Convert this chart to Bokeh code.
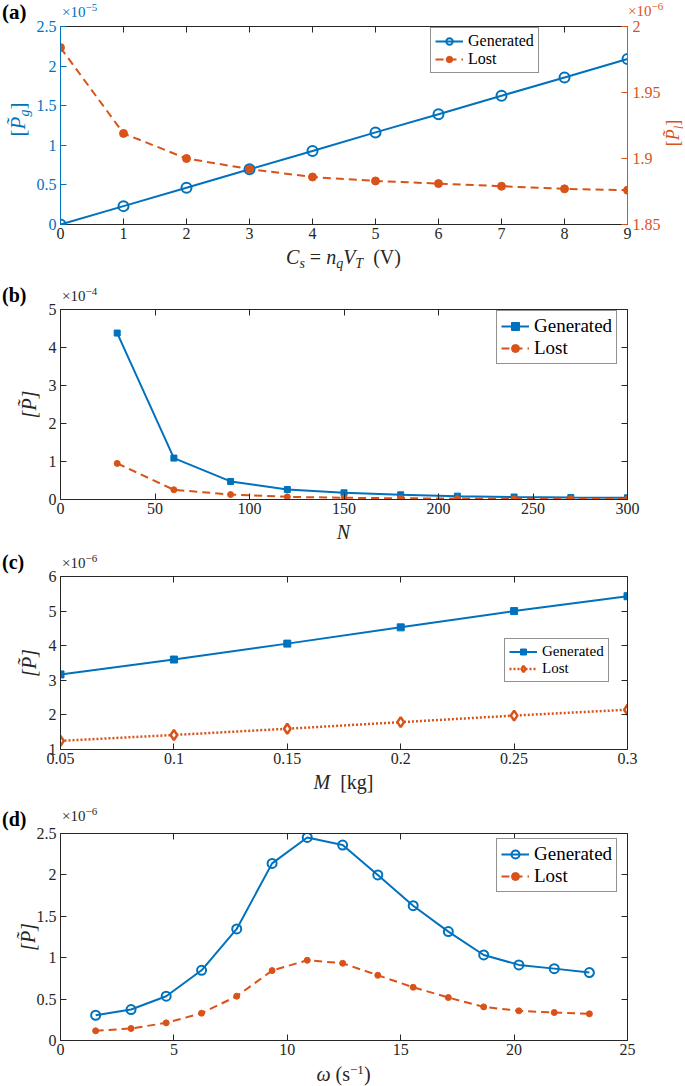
from bokeh.plotting import figure
from bokeh.layouts import column, row
from bokeh.models import Range1d, LinearAxis, FixedTicker, Legend, LegendItem, Div
from bokeh.embed import file_html
from bokeh.resources import INLINE

BLUE = "#0072BD"
ORANGE = "#D95319"
AX = "#262626"
FONT = "Liberation Serif"

# ---------------- data ----------------
# (a) generated power (x1e-5, left axis) and lost power (x1e-6, right axis) vs C_s
cs_a = [0, 1, 2, 3, 4, 5, 6, 7, 8, 9]
gen_a = [0.0, 0.232, 0.465, 0.697, 0.928, 1.163, 1.392, 1.625, 1.857, 2.089]
lost_a = [1.984, 1.919, 1.900, 1.892, 1.886, 1.883, 1.881, 1.879, 1.877, 1.876]
xt_a = [0, 1, 2, 3, 4, 5, 6, 7, 8, 9]
yt_a = [0, 0.5, 1, 1.5, 2, 2.5]
yt_a2 = [1.85, 1.9, 1.95, 2.0]

# (b) power (x1e-4) vs N
n_b = [30, 60, 90, 120, 150, 180, 210, 240, 270, 300]
gen_b = [4.38, 1.09, 0.475, 0.264, 0.176, 0.123, 0.088, 0.065, 0.05, 0.045]
lost_b = [0.95, 0.255, 0.13, 0.07, 0.045, 0.032, 0.025, 0.02, 0.017, 0.015]
xt_b = [0, 50, 100, 150, 200, 250, 300]
yt_b = [0, 1, 2, 3, 4, 5]

# (c) power (x1e-6) vs M
m_c = [0.05, 0.1, 0.15, 0.2, 0.25, 0.3]
gen_c = [3.17, 3.6, 4.06, 4.53, 5.0, 5.43]
lost_c = [1.25, 1.42, 1.6, 1.79, 1.98, 2.15]
xt_c = [0.05, 0.1, 0.15, 0.2, 0.25, 0.3]
yt_c = [1, 2, 3, 4, 5, 6]

# (d) power (x1e-6) vs omega
w_d = [1.55, 3.11, 4.66, 6.22, 7.77, 9.33, 10.88, 12.44, 13.99, 15.55, 17.10, 18.66, 20.21, 21.77, 23.32]
gen_d = [0.305, 0.374, 0.535, 0.848, 1.347, 2.139, 2.452, 2.36, 2.0, 1.628, 1.315, 1.033, 0.913, 0.868, 0.82]
lost_d = [0.117, 0.145, 0.213, 0.33, 0.535, 0.844, 0.969, 0.933, 0.788, 0.643, 0.519, 0.406, 0.358, 0.338, 0.322]
xt_d = [0, 5, 10, 15, 20, 25]
yt_d = [0, 0.5, 1, 1.5, 2, 2.5]

TW = 685      # full page width
OVL = 8       # how far each plot slides up under the text strip above it

# ---------------- html text helpers ----------------
BASE = 0.8375  # baseline position (em) inside a line-height:1 box for Liberation Serif


def sub(t, size):
    return f'<span style="font-size:{size}px;position:relative;top:{round(size * 0.3)}px;">{t}</span>'


def sup(t, size):
    return f'<span style="font-size:{size}px;position:relative;top:-{round(size * 0.55)}px;">{t}</span>'


def span(html, x, base, size, color=AX, weight="normal", align="left", rotate=False):
    common = (f"position:absolute;font-family:'{FONT}';font-size:{size}px;font-weight:{weight};"
              f"color:{color};line-height:1;white-space:nowrap;")
    if rotate:
        w = 70
        return (f'<div style="{common}left:{x - w / 2}px;top:{base - size / 2}px;width:{w}px;'
                f'height:{size}px;text-align:center;transform:rotate(-90deg);'
                f'transform-origin:50% 50%;">{html}</div>')
    top = base - BASE * size
    if align == "center":
        w = 300
        return (f'<div style="{common}left:{x - w / 2}px;top:{top}px;width:{w}px;'
                f'text-align:center;">{html}</div>')
    return f'<div style="{common}left:{x}px;top:{top}px;">{html}</div>'


def box(w, h, parts, shift=0):
    html = (f'<div style="position:relative;width:{w}px;height:{h}px;overflow:visible;">'
            + "".join(parts) + "</div>")
    d = Div(text=html, width=w, height=h, margin=0)
    return d


def expo(p, sp=11):
    return "\u00d710" + sup("\u2212" + p, sp)


TP = "<i>P\u0303</i>"

# ---------------- figure helpers ----------------


def style_axis(ax, ticks, labels=True, color=AX, standoff=3):
    ax.ticker = FixedTicker(ticks=ticks)
    ax.major_tick_in = 6
    ax.major_tick_out = 0
    ax.minor_tick_line_color = None
    ax.axis_line_color = color
    ax.axis_line_width = 1
    ax.major_tick_line_color = color
    ax.major_label_text_color = color
    ax.major_label_text_font = FONT
    if labels:
        ax.major_label_text_font_size = "16px"
        ax.major_label_standoff = standoff
        ax.major_label_overrides = {t: f"{t:g}" for t in ticks}
    else:
        ax.major_label_text_font_size = "0px"
        ax.major_label_standoff = 0
        ax.major_label_overrides = {t: "" for t in ticks}


def make_fig(width, height, left, right, top, bottom, xr, yr, slide=True):
    p = figure(width=width, height=height, x_range=Range1d(*xr), y_range=Range1d(*yr),
               output_backend="svg", toolbar_location=None, tools="",
               min_border_left=left, min_border_right=right, min_border_top=top,
               min_border_bottom=bottom)
    p.xgrid.visible = False
    p.ygrid.visible = False
    p.outline_line_color = None
    p.border_fill_color = None
    if slide:
        p.margin = (-OVL, 0, 0, 0)
    else:
        p.margin = 0
    return p


def box_axes(p, xt, yt, right=True):
    top = LinearAxis()
    style_axis(top, xt, labels=False)
    p.add_layout(top, "above")
    if right:
        r = LinearAxis()
        style_axis(r, yt, labels=False)
        p.add_layout(r, "right")


def ylabel(p, standoff):
    ax = p.yaxis[0]
    ax.axis_label = "[P\u0303]"
    ax.axis_label_text_font = FONT
    ax.axis_label_text_font_size = "20px"
    ax.axis_label_text_font_style = "italic"
    ax.axis_label_text_color = AX
    ax.axis_label_standoff = standoff


def legend(p, items, loc, size, pad, row_h):
    leg = Legend(items=[LegendItem(label=l, renderers=r) for l, r in items], location=loc)
    leg.label_text_font = FONT
    leg.label_text_font_size = f"{size}px"
    leg.label_text_color = "black"
    leg.border_line_color = AX
    leg.border_line_width = 1
    leg.padding = pad
    leg.spacing = 0
    leg.margin = 0
    leg.glyph_width = 28
    leg.glyph_height = row_h
    leg.label_height = row_h
    leg.label_standoff = 5
    leg.background_fill_alpha = 1
    p.add_layout(leg)


# ---------------- (a) ----------------
ha = box(TW, 25, [span("(a)", 2, 20, 21, "black", "bold"),
                  span(expo("5"), 62, 18, 15, BLUE),
                  span(expo("6"), 628, 17, 15, ORANGE)])

A_OVL = 9
pa = make_fig(631, 230, 28, 36, 10, 22, (0, 9), (0, 2.5), slide=False)
pa.extra_y_ranges = {"lost": Range1d(1.85, 2.0)}
style_axis(pa.xaxis[0], xt_a)
style_axis(pa.yaxis[0], yt_a, color=BLUE, standoff=4)
ra = LinearAxis(y_range_name="lost")
style_axis(ra, yt_a2, color=ORANGE, standoff=5)
pa.add_layout(ra, "right")
box_axes(pa, xt_a, yt_a, right=False)

la1 = pa.line(cs_a, gen_a, line_color=BLUE, line_width=2)
sa1 = pa.scatter(cs_a, gen_a, marker="circle", size=10, line_color=BLUE, line_width=2, fill_color=None)
la2 = pa.line(cs_a, lost_a, y_range_name="lost", line_color=ORANGE, line_width=2, line_dash="8 5")
sa2 = pa.scatter(cs_a, lost_a, y_range_name="lost", marker="circle", size=8, line_color=ORANGE, fill_color=ORANGE)
legend(pa, [("Generated", [la1, sa1]), ("Lost", [la2, sa2])], (370, 151), 16, 4, 16)

la_div = box(32, 230, [span("[" + TP + sub("<i>g</i>", 14) + "]", 18, 103, 21, BLUE, rotate=True)])
ra_div = box(22, 230, [span("[" + TP + sub("<i>l</i>", 13) + "]", 10, 117, 18, ORANGE, rotate=True)])
row_a = row(la_div, pa, ra_div, spacing=0)
row_a.margin = (-A_OVL, 0, 0, 0)

fa = box(TW, 26, [span("<i>C</i>" + sub("<i>s</i>", 14) + "&nbsp;=&nbsp;<i>n</i>" + sub("<i>q</i>", 14)
                       + "<i>V</i>" + sub("<i>T</i>", 14) + "&nbsp;&nbsp;(V)", 343.5, 18, 20, align="center")])

# ---------------- (b) ----------------
hb = box(TW, 35, [span("(b)", 2, 30, 20, "black", "bold"), span(expo("4"), 62, 30, 15)])

pb = make_fig(TW, 222, 60, 58, 10, 22, (0, 300), (0, 5))
style_axis(pb.xaxis[0], xt_b)
style_axis(pb.yaxis[0], yt_b, standoff=4)
ylabel(pb, 6)
box_axes(pb, xt_b, yt_b)
lb1 = pb.line(n_b, gen_b, line_color=BLUE, line_width=2)
sb1 = pb.scatter(n_b, gen_b, marker="square", size=6, line_color=BLUE, fill_color=BLUE)
lb2 = pb.line(n_b, lost_b, line_color=ORANGE, line_width=2, line_dash="8 5")
sb2 = pb.scatter(n_b, lost_b, marker="circle", size=6, line_color=ORANGE, fill_color=ORANGE)
legend(pb, [("Generated", [lb1, sb1]), ("Lost", [lb2, sb2])], (436, 135), 19, 4, 20)

fb = box(TW, 24, [span("<i>N</i>", 343.5, 18, 20, align="center")])

# ---------------- (c) ----------------
hc = box(TW, 29, [span("(c)", 2, 24, 20, "black", "bold"), span(expo("6"), 62, 24, 15)])

pc = make_fig(TW, 205, 60, 58, 10, 22, (0.05, 0.3), (1, 6))
style_axis(pc.xaxis[0], xt_c)
style_axis(pc.yaxis[0], yt_c, standoff=4)
ylabel(pc, 6)
box_axes(pc, xt_c, yt_c)
lc1 = pc.line(m_c, gen_c, line_color=BLUE, line_width=2)
sc1 = pc.scatter(m_c, gen_c, marker="square", size=7, line_color=BLUE, fill_color=BLUE)
lc2 = pc.line(m_c, lost_c, line_color=ORANGE, line_width=2.5, line_dash="2 2")
sc2 = pc.scatter(m_c, lost_c, marker="diamond", size=10, line_color=ORANGE, line_width=2.5, fill_color="white")
legend(pc, [("Generated", [lc1, sc1]), ("Lost", [lc2, sc2])], (444, 67), 15, 4, 15)

fc = box(TW, 29, [span("<i>M</i>&nbsp;&nbsp;[kg]", 343.5, 18, 20, align="center")])

# ---------------- (d) ----------------
hd = box(TW, 31, [span("(d)", 2, 26, 20, "black", "bold"), span(expo("6"), 62, 21.5, 15)])

pd_ = make_fig(TW, 239, 60, 58, 10, 22, (0, 25), (0, 2.5))
style_axis(pd_.xaxis[0], xt_d)
style_axis(pd_.yaxis[0], yt_d, standoff=4)
ylabel(pd_, -5)
box_axes(pd_, xt_d, yt_d)
ld1 = pd_.line(w_d, gen_d, line_color=BLUE, line_width=2)
sd1 = pd_.scatter(w_d, gen_d, marker="circle", size=9, line_color=BLUE, line_width=2, fill_color=None)
ld2 = pd_.line(w_d, lost_d, line_color=ORANGE, line_width=2, line_dash="8 5")
sd2 = pd_.scatter(w_d, lost_d, marker="circle", size=6, line_color=ORANGE, fill_color=ORANGE)
legend(pd_, [("Generated", [ld1, sd1]), ("Lost", [ld2, sd2])], (436, 148), 19, 4, 20)

fd = box(TW, 24, [span("<i>\u03c9</i>&nbsp;(s" + sup("\u22121", 13) + ")", 343.5, 19, 20, align="center")])

layout = column(ha, row_a, fa, hb, pb, fb, hc, pc, fc, hd, pd_, fd, spacing=0)
open("out.html", "w").write(file_html(layout, INLINE))
